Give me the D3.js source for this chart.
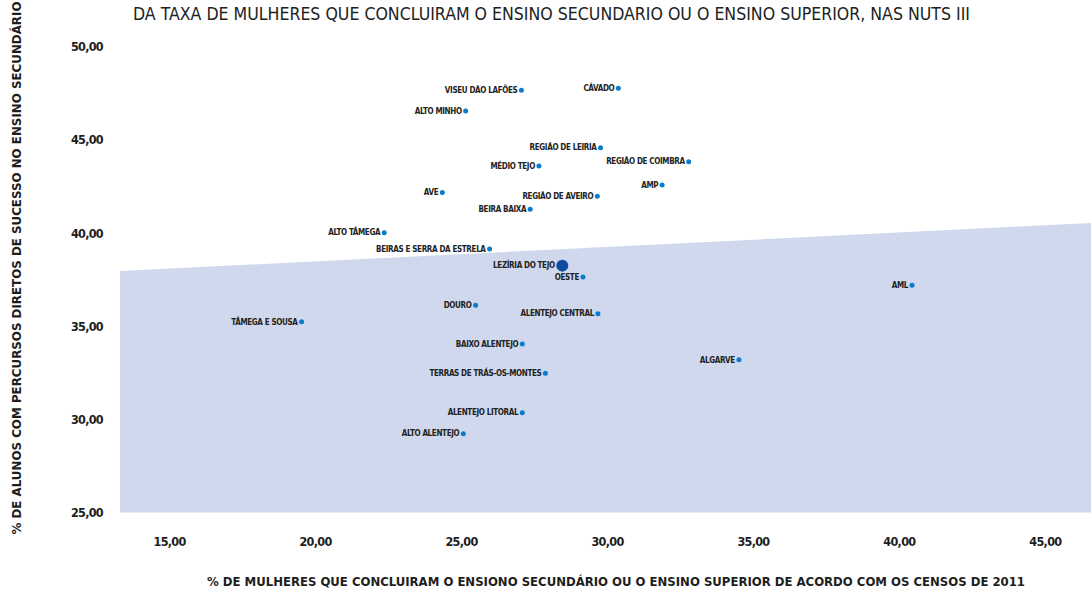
<!DOCTYPE html>
<html>
<head>
<meta charset="utf-8">
<script src="https://cdn.jsdelivr.net/npm/d3@7"></script>
<style>
  body { margin: 0; background: #fff; }
  svg { display: block; font-family: "Liberation Sans Narrow", "DejaVu Sans Condensed", "Roboto", sans-serif; }
</style>
</head>
<body>
<svg id="chart"></svg>
<script>
const W = 1091, H = 590;

// regions (NUTS III)
const regions = ["VISEU DÃO LAFÕES", "CÁVADO", "ALTO MINHO", "REGIÃO DE LEIRIA", "REGIÃO DE COIMBRA",
  "MÉDIO TEJO", "AMP", "AVE", "REGIÃO DE AVEIRO", "BEIRA BAIXA", "ALTO TÂMEGA",
  "BEIRAS E SERRA DA ESTRELA", "LEZÍRIA DO TEJO", "OESTE", "DOURO", "ALENTEJO CENTRAL",
  "TÂMEGA E SOUSA", "BAIXO ALENTEJO", "TERRAS DE TRÁS-OS-MONTES", "ALENTEJO LITORAL",
  "ALTO ALENTEJO", "AML", "ALGARVE"];
// % mulheres com secundário ou superior (censos 2011)
const womenRate = [27.07, 30.39, 25.16, 29.78, 32.80, 27.67, 31.89, 24.36, 29.67, 27.37, 22.37,
  25.98, 28.47, 29.18, 25.50, 29.69, 19.54, 27.10, 27.89, 27.10, 25.08, 40.45, 34.52];
// % alunos com percursos diretos de sucesso
const successRate = [47.66, 47.77, 46.55, 44.58, 43.83, 43.60, 42.58, 42.17, 41.97, 41.27, 40.02,
  39.14, 38.25, 37.64, 36.12, 35.67, 35.24, 34.04, 32.47, 30.36, 29.23, 37.20, 33.20];
const highlighted = ["LEZÍRIA DO TEJO"];

// trend line (start / end)
const trendX = [13.32, 46.58];
const trendY = [37.96, 40.54];

const xTicks = [15, 20, 25, 30, 35, 40, 45];
const yTicks = [25, 30, 35, 40, 45, 50];

const titleText = "DA TAXA DE MULHERES QUE CONCLUIRAM O ENSINO SECUNDARIO OU O ENSINO SUPERIOR, NAS NUTS III";
const xTitle = "% DE MULHERES QUE CONCLUIRAM O ENSIONO SECUNDÁRIO OU O ENSINO SUPERIOR DE ACORDO COM OS CENSOS DE 2011";
const yTitle = "% DE ALUNOS COM PERCURSOS DIRETOS DE SUCESSO NO ENSINO SECUNDÁRIO";

const svg = d3.select("#chart").attr("width", W).attr("height", H);

const x = d3.scaleLinear().domain([13.32, 46.58]).range([120, 1091]);
const y = d3.scaleLinear().domain([25, 50]).range([512.5, 46.7]);

const fmt = d => d3.format(".2f")(d).replace(".", ",");

// shaded area under trend line
const trend = trendX.map((v, i) => [v, trendY[i]]);
svg.append("path")
  .datum(trend)
  .attr("fill", "#cfd8ec")
  .attr("d", d3.area().x(d => x(d[0])).y0(y(25)).y1(d => y(d[1])));

// axes
const yAxis = svg.append("g")
  .attr("transform", `translate(${x.range()[0]},0)`)
  .call(d3.axisLeft(y).tickValues(yTicks).tickFormat(fmt).tickSize(0).tickPadding(17));
const xAxis = svg.append("g")
  .attr("transform", `translate(0,${y(25)})`)
  .call(d3.axisBottom(x).tickValues(xTicks).tickFormat(fmt).tickSize(0).tickPadding(25));
[yAxis, xAxis].forEach(a => {
  a.select(".domain").remove();
  a.selectAll("text")
    .attr("font-family", "'Liberation Sans Narrow', 'DejaVu Sans Condensed', sans-serif")
    .attr("font-size", 12.5).attr("font-weight", "bold").attr("fill", "#1e1e1e")
    .attr("letter-spacing", -0.7);
});

// points
const pts = regions.map((r, i) => ({ name: r, x: womenRate[i], y: successRate[i], big: highlighted.includes(r) }));
const gp = svg.append("g");
gp.selectAll("circle")
  .data(pts)
  .join("circle")
  .attr("cx", d => x(d.x))
  .attr("cy", d => y(d.y))
  .attr("r", d => d.big ? 6 : 2.5)
  .attr("fill", d => d.big ? "#0d4c9c" : "#0a7cc9");
gp.selectAll("text")
  .data(pts)
  .join("text")
  .attr("x", d => x(d.x) - (d.big ? 6 : 2.5) - 1.5)
  .attr("y", d => y(d.y))
  .attr("dy", "0.35em")
  .attr("text-anchor", "end")
  .attr("font-size", 8)
  .attr("letter-spacing", -0.35)
  .attr("font-weight", "bold")
  .attr("fill", "#222")
  .text(d => d.name);

// titles
svg.append("text")
  .attr("x", 133).attr("y", 20)
  .attr("font-size", 17).attr("fill", "#222")
  .attr("textLength", 837).attr("lengthAdjust", "spacingAndGlyphs")
  .text(titleText);

svg.append("text")
  .attr("x", 616).attr("y", 586)
  .attr("text-anchor", "middle")
  .attr("font-size", 12.5).attr("font-weight", "bold").attr("fill", "#1e1e1e")
  .attr("textLength", 818).attr("lengthAdjust", "spacingAndGlyphs")
  .text(xTitle);

svg.append("text")
  .attr("transform", "translate(21,268) rotate(-90)")
  .attr("text-anchor", "middle")
  .attr("font-size", 13).attr("font-weight", "bold").attr("fill", "#1e1e1e")
  .attr("textLength", 533).attr("lengthAdjust", "spacingAndGlyphs")
  .text(yTitle);
</script>
</body>
</html>
